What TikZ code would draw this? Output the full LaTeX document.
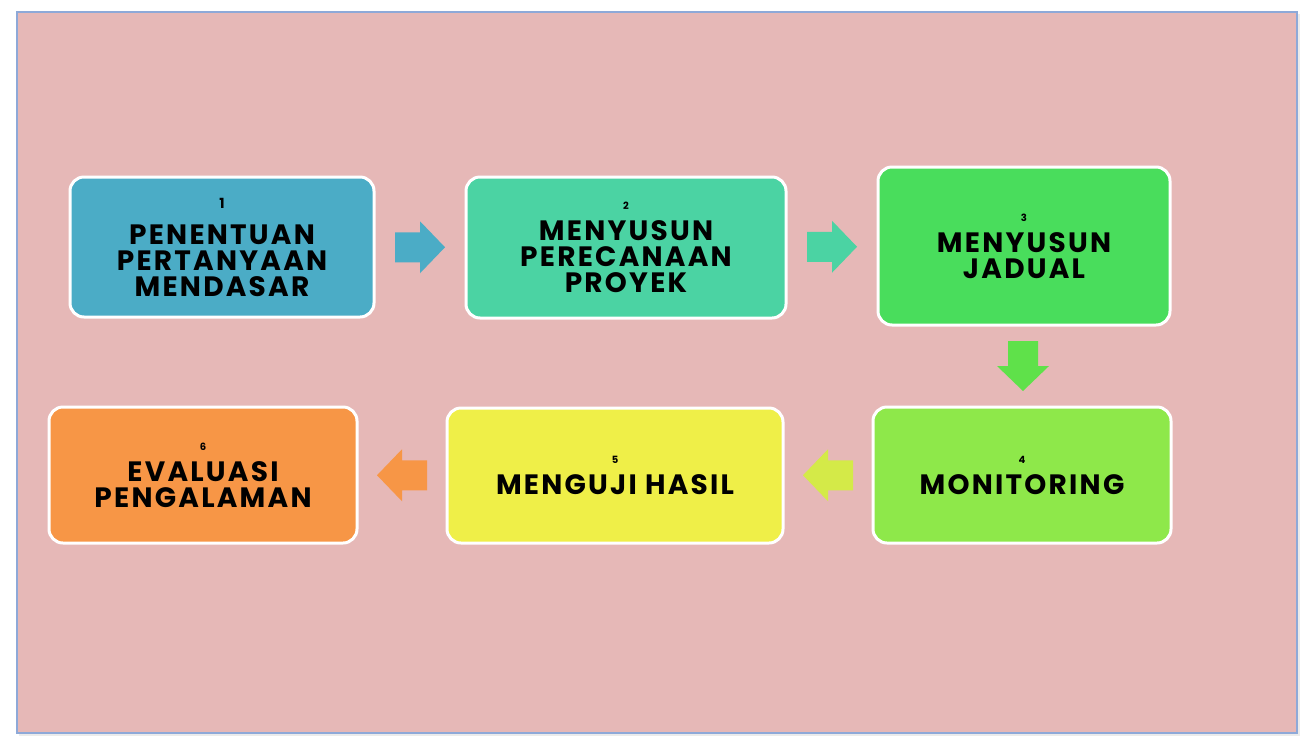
\documentclass[tikz,border=0pt]{standalone}
\usepackage{fontspec}
\setmainfont{Poppins}
\newfontfamily\stepfont[LetterSpace=8]{Poppins}
\usetikzlibrary{calc}

\definecolor{SlideClr}{HTML}{E6B8B7}
\definecolor{FrameClr}{HTML}{8EA9D8}
\definecolor{StepA}{HTML}{4BACC6}
\definecolor{StepB}{HTML}{4BD3A3}
\definecolor{StepC}{HTML}{49DD5C}
\definecolor{StepD}{HTML}{8EE84A}
\definecolor{StepE}{HTML}{EFEF48}
\definecolor{StepF}{HTML}{F79646}
\definecolor{ArrowC}{HTML}{5FE14A}
\definecolor{ArrowD}{HTML}{D4EA48}

\newcommand\numfont{\fontsize{5}{13}\selectfont}
% block arrow: colour, direction, centre
\newcommand\blockarrow[3]{%
  \fill[#1,shift={(#3)},rotate=#2] (-25,-15) -- (0,-15) -- (0,-26) -- (25,0)
    -- (0,26) -- (0,15) -- (-25,15) -- cycle;}

\tikzset{
  stepbox/.style={draw=white,line width=1.5pt,rounded corners=7pt,align=center,
    inner sep=0pt,font=\stepfont\bfseries\fontsize{14}{13}\selectfont},
}

\begin{document}
\begin{tikzpicture}[x=0.5pt,y=-0.5pt]
\useasboundingbox (0,0) rectangle (1312,740);
\fill[white] (0,0) rectangle (1312,740);
\fill[black!8] (19,14) rectangle (1300,736);
\draw[FrameClr,line width=1pt,fill=SlideClr] (17,12) rectangle (1297,733);

% top row
\node[stepbox,fill=StepA,minimum width=152pt,minimum height=70pt] (s1) at (222,247)
  {{\fontsize{7}{13}\selectfont 1}\\[5pt] PENENTUAN\\PERTANYAAN\\MENDASAR};
\node[stepbox,fill=StepB,minimum width=160pt,minimum height=70.5pt] (s2) at (626,247.5)
  {{\numfont 2}\\[2.5pt] MENYUSUN\\PERECANAAN\\PROYEK};
\node[stepbox,fill=StepC,minimum width=146pt,minimum height=79pt] (s3) at (1024,246)
  {{\numfont 3}\\[2.5pt] MENYUSUN\\JADUAL};

% bottom row
\node[stepbox,fill=StepD,minimum width=149pt,minimum height=68pt] (s4) at (1022,475)
  {{\numfont 4}\\[2.5pt] MONITORING};
\node[stepbox,fill=StepE,minimum width=168pt,minimum height=67.5pt] (s5) at (615,475.5)
  {{\numfont 5}\\[2.5pt] MENGUJI HASIL};
\node[stepbox,fill=StepF,minimum width=154pt,minimum height=68pt] (s6) at (203,475)
  {{\numfont 6}\\[2.5pt] EVALUASI\\PENGALAMAN};

% arrows between the steps
\coordinate (a12) at ($(s1.east)!0.5!(s2.west)$);
\coordinate (a23) at ($(s2.east)!0.5!(s3.west)$);
\coordinate (a34) at ($(s3.south)!0.5!(s4.north)$);
\coordinate (a45) at ($(s4.west)!0.5!(s5.east)$);
\coordinate (a56) at ($(s5.west)!0.5!(s6.east)$);
\blockarrow{StepA}{0}{a12}
\blockarrow{StepB}{0}{a23}
\blockarrow{ArrowC}{-90}{a34}
\blockarrow{ArrowD}{180}{a45}
\blockarrow{StepF}{180}{a56}

\end{tikzpicture}
\end{document}
